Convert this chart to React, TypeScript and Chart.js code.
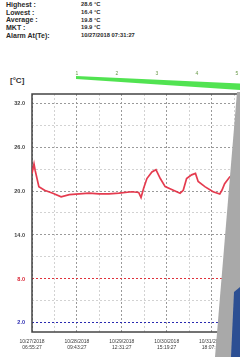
import React, { useEffect, useRef } from "react";
import { Chart, registerables } from "chart.js";
Chart.register(...registerables);

// ---- data ----
const hours = [0, 1.2, 1.9, 4.1, 7.5, 12.4, 17.4, 22.3, 28.2, 34.1, 40, 46, 51.9, 59.6, 63.7, 65.1, 66.7, 68.6, 71.6, 74, 76.6, 79.5, 83.4, 88.4, 90.3, 92.3, 95.3, 97.6, 99.2, 103.2, 108.1, 112.1, 113.4, 115, 118, 119.9, 122.9];
const temps = [22.4, 23.7, 22.8, 20.6, 20.1, 19.7, 19.2, 19.5, 19.6, 19.7, 19.6, 19.6, 19.7, 19.9, 19.8, 19.1, 20.4, 21.7, 22.6, 22.9, 21.7, 20.6, 20.2, 19.7, 20.1, 21.7, 22.2, 22.4, 21.3, 20.6, 19.9, 19.6, 20.1, 21.0, 21.9, 22.2, 22.4];
const tickDates = ["10/27/2018", "10/28/2018", "10/29/2018", "10/30/2018", "10/31/2018", "11/01/2018"];
const tickTimes = ["06:55:27", "09:43:27", "12:31:27", "15:19:27", "18:07:27", "20:55:27"];
const tickStepHours = 26.8;
const yMajor = [32, 26, 20, 14, 8, 2];
const yMinor = [29, 23, 17, 11, 5];
const alarmHigh = 8;
const alarmLow = 2;
const headerLabels = ["Highest :", "Lowest :", "Average :", "MKT :", "Alarm At(Te):"];
const headerValues = ["28.6 \u00B0C", "16.4 \u00B0C", "19.8 \u00B0C", "19.9 \u00B0C", "10/27/2018 07:31:27"];
const rulerNumbers = ["1", "2", "3", "4", "5"];

const FONT = "'Liberation Sans', Arial, sans-serif";

export default function App() {
  const ref = useRef<HTMLCanvasElement | null>(null);
  useEffect(() => {
    if (!ref.current) return;
    Chart.defaults.font.family = FONT;
    const framePlugin = {
      id: "frame",
      beforeDatasetsDraw(chart: any) {
        const { ctx, chartArea: a } = chart;
        ctx.save();
        ctx.strokeStyle = "#444";
        ctx.lineWidth = 1.5;
        ctx.strokeRect(a.left, a.top, a.right - a.left, a.bottom - a.top);
        ctx.restore();
      },
    };
    const chart = new Chart(ref.current, {
      type: "line",
      data: {
        datasets: [
          {
            data: hours.map((h, i) => ({ x: h, y: temps[i] })),
            borderColor: "rgba(228,48,70,0.95)",
            borderWidth: 1.7,
            pointRadius: 0,
            tension: 0,
          },
        ],
      },
      options: {
        animation: false,
        responsive: false,
        devicePixelRatio: 1,
        plugins: { legend: { display: false }, tooltip: { enabled: false } },
        layout: { padding: { left: 0, top: 94, right: 0, bottom: 0 } },
        scales: {
          x: {
            type: "linear",
            min: 0,
            max: 123,
            afterFit: (s: any) => { s.height = 25; },
            afterBuildTicks: (s: any) => {
              const t = [];
              for (let i = 0; i * tickStepHours / 2 <= 123; i++) t.push({ value: i * tickStepHours / 2 });
              s.ticks = t;
            },
            grid: {
              drawTicks: false,
              lineWidth: 1,
              color: (c: any) => {
                const idx = Math.round(c.tick.value / (tickStepHours / 2));
                return idx % 2 === 0 ? "#9a9a9a" : "#d2d2d2";
              },
            },
            border: { display: false, dash: [2, 2] },
            ticks: {
              autoSkip: false,
              maxRotation: 0,
              padding: 6,
              color: "#3a3a3a",
              font: { size: 5, lineHeight: 1.3 },
              callback: (v: any) => {
                const idx = Math.round(Number(v) / (tickStepHours / 2));
                if (idx % 2 !== 0) return "";
                const k = idx / 2;
                return [tickDates[k], tickTimes[k]];
              },
            },
          },
          y: {
            min: 0.77,
            max: 33.23,
            afterFit: (s: any) => { s.width = 32; },
            afterBuildTicks: (s: any) => {
              s.ticks = [...yMajor, ...yMinor].sort((a, b) => a - b).map((v) => ({ value: v }));
            },
            grid: {
              drawTicks: false,
              lineWidth: 1,
              color: (c: any) => {
                const v = c.tick.value;
                if (v === alarmHigh) return "#e0303a";
                if (v === alarmLow) return "#2a2ab0";
                return yMajor.includes(v) ? "#9a9a9a" : "#d2d2d2";
              },
            },
            border: { display: false, dash: [2, 2] },
            ticks: {
              padding: 7,
              font: { size: 5.5, weight: "bold" },
              color: (c: any) => {
                const v = c.tick.value;
                if (v === alarmHigh) return "#d82030";
                if (v === alarmLow) return "#2a2ab0";
                return "#444";
              },
              callback: (v: any) => (yMajor.includes(Number(v)) ? Number(v).toFixed(1) : ""),
            },
          },
        },
      },
      plugins: [framePlugin],
    } as any);
    return () => chart.destroy();
  }, []);

  const rulerX = [77, 117, 157, 197, 237];
  return (
    <div style={{ position: "fixed", left: 0, top: 0, width: 240, height: 357, background: "#fff", overflow: "hidden", fontFamily: FONT }}>
      {headerLabels.map((l, i) => (
        <React.Fragment key={l}>
          <div style={{ position: "absolute", left: 6, top: 1 + i * 7.7, fontSize: 7, fontWeight: "bold", color: "#2a2a2a", lineHeight: "7px", whiteSpace: "nowrap" }}>{l}</div>
          <div style={{ position: "absolute", left: 81, top: 1.3 + i * 7.7, fontSize: 5.8, fontWeight: "bold", color: "#2a2a2a", lineHeight: "7px", whiteSpace: "nowrap" }}>{headerValues[i]}</div>
        </React.Fragment>
      ))}
      <div style={{ position: "absolute", left: 10, top: 76, fontSize: 8, fontWeight: "bold", color: "#333", lineHeight: "9px" }}>[°C]</div>
      <canvas ref={ref} width={240} height={357} style={{ position: "absolute", left: 0, top: 0, width: 240, height: 357 }} />
      <svg width={240} height={357} style={{ position: "absolute", left: 0, top: 0, pointerEvents: "none" }}>
        <polygon points="76,76 240,83.5 240,90 76,79" fill="#3ee03e" opacity={0.9} />
        {rulerNumbers.map((n, i) => (
          <text key={n} x={rulerX[i]} y={74.5} fontSize={5} fill="#6a9a4a" textAnchor="middle" fontFamily={FONT}>{n}</text>
        ))}
        <polygon points="237,92 240,92 240,357 215,357" fill="#a9a9a9" />
        <polygon points="234,292 240,287 240,357 231,357" fill="#2c4f93" />
      </svg>
    </div>
  );
}
